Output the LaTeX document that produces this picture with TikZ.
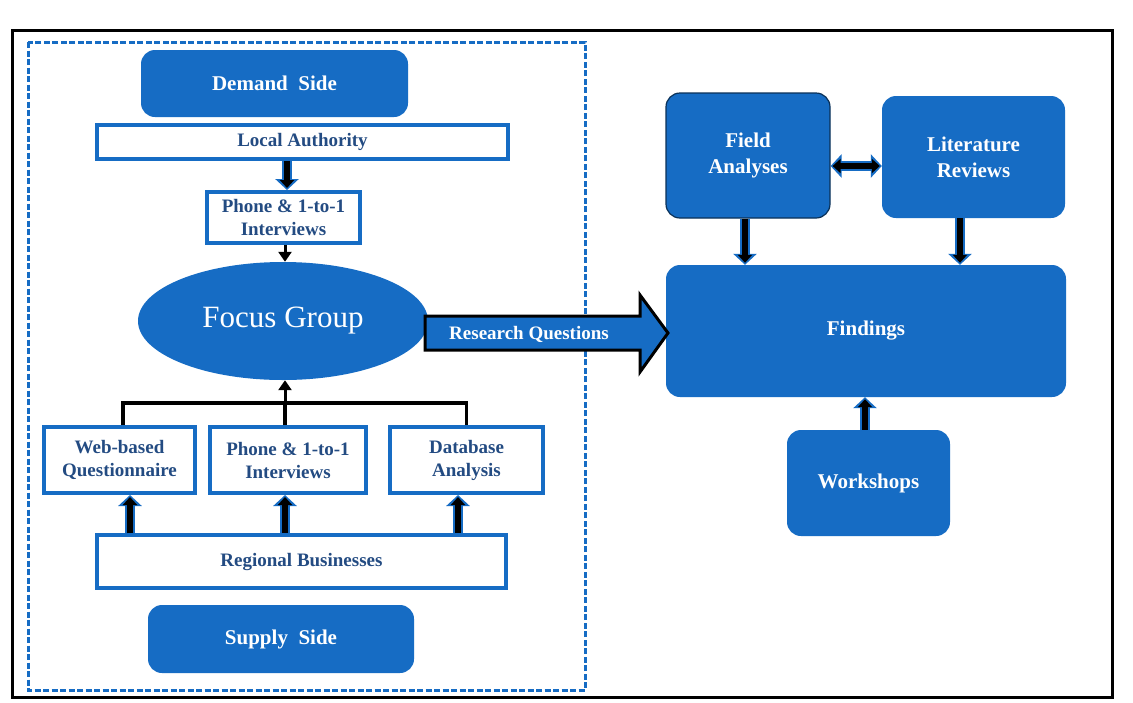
\documentclass[tikz,border=0pt]{standalone}
\usepackage{fontspec}
\setmainfont{Liberation Serif}
\usetikzlibrary{arrows.meta,shapes.geometric,calc}
\definecolor{boxblue}{RGB}{22,108,196}
\definecolor{navytext}{RGB}{35,75,130}
\begin{document}
\begin{tikzpicture}[x=1pt,y=-1pt,
  bluebox/.style={rounded corners=14pt, fill=boxblue, draw=none, text=white, font=\bfseries\fontsize{21}{26}\selectfont, align=center, inner sep=0pt},
  wbox/.style={draw=boxblue, line width=4pt, fill=white, text=navytext, font=\bfseries\fontsize{19}{23}\selectfont, align=center, inner sep=0pt},
  blockarr/.style={line width=6pt, black, -{Triangle[width=14pt,length=8pt]}, shorten >=2pt,
     preaction={draw=boxblue, line width=9.5pt, -{Triangle[width=23pt,length=11pt]}, shorten >=0pt}},
  dblarr/.style={line width=6pt, black, {Triangle[width=14pt,length=8pt]}-{Triangle[width=14pt,length=8pt]}, shorten >=2pt, shorten <=2pt,
     preaction={draw=boxblue, line width=9.5pt, {Triangle[width=23pt,length=11pt]}-{Triangle[width=23pt,length=11pt]}, shorten >=0pt, shorten <=0pt}},
  thinarr/.style={line width=3pt, black, -{Triangle[width=13pt,length=10pt]}},
  bracket/.style={line width=3.5pt, black}
]
\useasboundingbox (0,0) rectangle (1133,702);
\fill[white] (0,0) rectangle (1133,702);

% frames
\draw[line width=3pt, black] (12,30) rectangle (1112,697);
\draw[boxblue, line width=3pt, dash pattern=on 6pt off 2.5pt] (28,42) rectangle (585,690);

% left column
\node[bluebox, minimum width=267pt, minimum height=67pt] (demand) at (274.5,83.5) {Demand\ \ Side};
\node[wbox, minimum width=411pt, minimum height=34pt] (la) at (302.5,142) {Local Authority};
\node[wbox, minimum width=153pt, minimum height=51pt] (ph1) at (283.5,217.5) {Phone \& 1-to-1\\Interviews};
\node[ellipse, fill=boxblue, text=white, minimum width=290pt, minimum height=118pt, inner sep=0pt, font=\fontsize{31}{36}\selectfont] (fg) at (283,321) {Focus Group};

\node[wbox, minimum width=151pt, minimum height=66pt] (web) at (119.5,460) {Web-based\\Questionnaire};
\node[wbox, minimum width=156pt, minimum height=66pt] (ph2) at (288,460) {Phone \& 1-to-1\\Interviews};
\node[wbox, minimum width=153pt, minimum height=66pt] (db) at (466.5,460) {Database\\Analysis};
\node[wbox, minimum width=409pt, minimum height=53pt] (rb) at (301.5,561.5) {Regional Businesses};
\node[bluebox, minimum width=266pt, minimum height=68pt] (supply) at (281,639) {Supply\ \ Side};

% right column
\node[bluebox, draw=boxblue!45!black, line width=1.2pt, minimum width=164pt, minimum height=125pt] (field) at (748,155.5) {Field\\Analyses};
\node[bluebox, minimum width=183pt, minimum height=122pt] (lit) at (973.5,157) {Literature\\Reviews};
\node[bluebox, minimum width=400pt, minimum height=132pt] (find) at (866,331) {Findings};
\node[bluebox, minimum width=163pt, minimum height=106pt] (work) at (868.5,483) {Workshops};

% left connectors
\draw[blockarr] (la.south -| 287,0) -- (ph1.north -| 287,0);
\draw[thinarr] (ph1.south -| 285,0) -- (fg.north -| 285,0);
\coordinate (jn) at (285,403);
\draw[bracket] ([xshift=3.5pt]web.north) |- (jn) -| (db.north);
\draw[bracket] (ph2.north -| jn) -- (jn);
\draw[thinarr] (jn) -- (fg.south -| jn);
\draw[blockarr] (rb.north -| 130,0) -- (web.south -| 130,0);
\draw[blockarr] (rb.north -| 285,0) -- (ph2.south -| 285,0);
\draw[blockarr] (rb.north -| 458,0) -- (db.south -| 458,0);

% research questions arrow
\draw[fill=boxblue, draw=black, line width=3pt, line join=miter]
  (425,316) -- (640,316) -- (640,295) -- (668,333) -- (640,372) -- (640,350) -- (425,350) -- cycle;
\node[text=white, font=\bfseries\fontsize{19}{22}\selectfont, inner sep=0pt] (rq) at (529,334) {Research Questions};

% right connectors
\draw[dblarr] (field.east |- 0,166) -- (lit.west |- 0,166);
\draw[blockarr] (field.south -| 745,0) -- (find.north -| 745,0);
\draw[blockarr] (lit.south -| 960,0) -- (find.north -| 960,0);
\draw[blockarr] (work.north -| 865,0) -- (find.south -| 865,0);
\end{tikzpicture}
\end{document}
